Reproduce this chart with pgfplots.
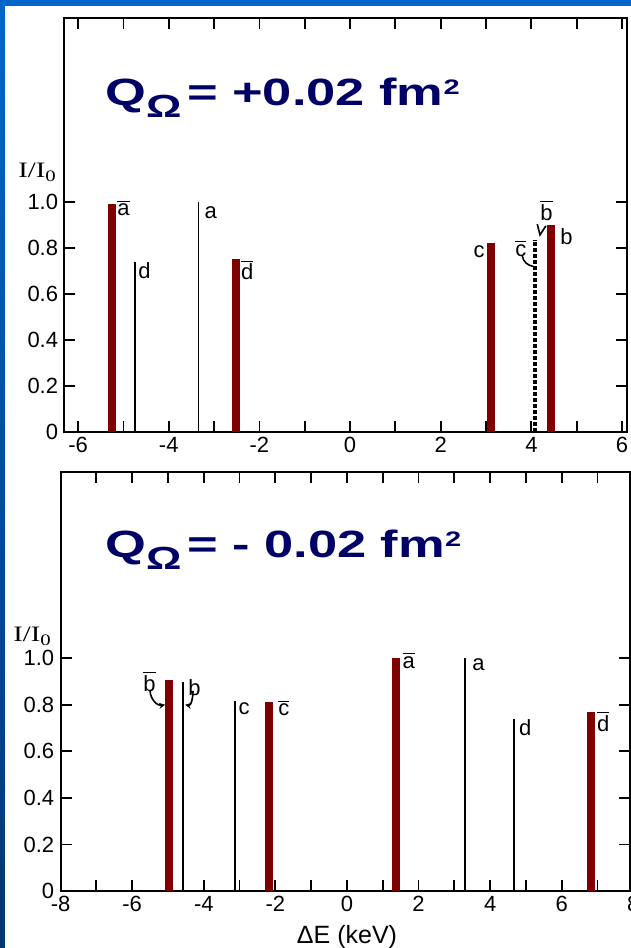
\documentclass[border=0pt]{standalone}
\usepackage{pgfplots}
\pgfplotsset{compat=1.18}
\usetikzlibrary{arrows.meta}
\usepackage{graphicx}
\usepackage{fontspec}
\setmainfont{Liberation Sans}
\newfontfamily\serifI{Liberation Serif}
\definecolor{barred}{RGB}{128,0,0}
\definecolor{navy}{RGB}{0,0,102}
\definecolor{slideblue}{RGB}{0,102,204}
\definecolor{slidedark}{RGB}{0,56,112}
\newcommand{\ob}[1]{$\overline{\mbox{#1}}$}
\pgfplotsset{
  specstyle/.style={
    scale only axis,
    anchor=south west,
    ymin=0, ymax=1.8,
    axis line style={line width=1pt},
    tick style={line width=0.9pt, black},
    tick align=inside,
    major tick length=5.5pt, minor tick length=5.5pt,
    ytick={0,0.2,0.4,0.6,0.8,1.0},
    yticklabels={0,0.2,0.4,0.6,0.8,1.0},
    tick label style={font=\fontsize{11}{12}\selectfont},
    xticklabel style={inner sep=2.5pt},
    yticklabel style={inner sep=3pt},
    clip=false,
  },
}
\tikzset{lbl/.style={anchor=north west, inner sep=0pt, font=\fontsize{11}{12}\selectfont}}
\begin{document}
\begin{tikzpicture}
\path[use as bounding box] (0,0) rectangle (315.5pt,474pt);
\clip (0,0) rectangle (315.5pt,474pt);
\shade[top color=slideblue, bottom color=slidedark] (0,0) rectangle (315.5pt,474pt);
\fill[white] (2.25pt,0) rectangle (315.5pt,471pt);

% ---------- top panel ----------
\begin{axis}[specstyle, at={(32.25pt,258pt)}, width=281.25pt, height=207pt,
  xmin=-6.30, xmax=6.11,
  xtick={-6,-4,-2,0,2,4,6}, xticklabels={-6,-4,-2,0,2,4,6},
  minor xtick={-5,-3,-1,1,3,5}]
\addplot[ycomb, color=barred, line width=4pt] coordinates {(-5.26,0.99) (-2.51,0.75) (3.11,0.82) (4.43,0.90)};
\addplot[ycomb, black, line width=0.8pt] coordinates {(-4.75,0.74) (-3.34,1.00)};
\addplot[ycomb, black, line width=1.8pt, dash pattern=on 2pt off 1pt] coordinates {(4.08,0.835)};
\node[lbl] at (axis cs:-5.14,1.01) {\ob{a}};
\node[lbl] at (axis cs:-4.68,0.74) {d};
\node[lbl] at (axis cs:-3.22,0.98) {a};
\node[lbl] at (axis cs:-2.41,0.75) {\ob{d}};
\node[lbl, anchor=north east] at (axis cs:2.98,0.81) {c};
\node[lbl] at (axis cs:3.64,0.835) {\ob{c}};
\node[lbl] at (axis cs:4.19,1.01) {\ob{b}};
\node[lbl] at (axis cs:4.63,0.887) {b};
\draw[line width=0.8pt] (axis cs:3.80,0.765) to[out=-80,in=170] (axis cs:4.04,0.72);
\draw[line width=0.8pt] (axis cs:4.13,0.904) -- (axis cs:4.19,0.857) -- (axis cs:4.32,0.896);
\end{axis}

% ---------- bottom panel ----------
\begin{axis}[specstyle, at={(30.3pt,28.5pt)}, width=284.95pt, height=209.5pt,
  xmin=-8, xmax=7.92,
  xtick={-8,-6,-4,-2,0,2,4,6}, xticklabels={-8,-6,-4,-2,0,2,4,6},
  minor xtick={-7,-5,-3,-1,1,3,5,7}]
\addplot[ycomb, color=barred, line width=4pt] coordinates {(-4.96,0.905) (-2.19,0.81) (1.38,1.00) (6.81,0.77)};
\addplot[ycomb, black, line width=0.8pt] coordinates {(-4.58,0.90) (-3.13,0.815) (3.30,1.00) (4.66,0.74)};
\node[anchor=north, inner sep=2.5pt, font=\fontsize{11}{12}\selectfont] at (axis cs:8,0) {8};
\node[lbl] at (axis cs:-5.70,0.944) {\ob{b}};
\node[lbl] at (axis cs:-4.44,0.909) {b};
\node[lbl] at (axis cs:-3.04,0.81) {c};
\node[lbl] at (axis cs:-1.93,0.823) {\ob{c}};
\node[lbl] at (axis cs:1.54,1.026) {\ob{a}};
\node[lbl] at (axis cs:3.49,1.00) {a};
\node[lbl] at (axis cs:4.80,0.737) {d};
\node[lbl] at (axis cs:6.98,0.772) {\ob{d}};
\draw[line width=0.8pt, -{Stealth[length=3pt,width=3pt]}] (axis cs:-5.50,0.86) to[out=-90,in=190] (axis cs:-5.08,0.80);
\draw[line width=0.8pt, -{Stealth[length=3pt,width=3pt]}] (axis cs:-4.30,0.86) to[out=-90,in=-10] (axis cs:-4.52,0.80);
\end{axis}

% ---------- titles and labels ----------
\node[anchor=base west, inner sep=0pt, text=navy] at (52.5pt,421pt)
  {\scalebox{1.38}[1]{\fontsize{19}{20}\selectfont\bfseries Q\raisebox{-6pt}{\fontsize{16}{16}\selectfont Ω}\hspace{2pt}= +0.02 fm\raisebox{5.5pt}{\fontsize{10.5}{11}\selectfont 2}}};
\node[anchor=base west, inner sep=0pt, text=navy] at (52.5pt,195pt)
  {\scalebox{1.38}[1]{\fontsize{19}{20}\selectfont\bfseries Q\raisebox{-6pt}{\fontsize{16}{16}\selectfont Ω}\hspace{2pt}= - 0.02 fm\raisebox{5.5pt}{\fontsize{10.5}{11}\selectfont 2}}};
\node[anchor=north west, inner sep=0pt] at (9pt,392.5pt)
  {\scalebox{1.3}[1]{\serifI\fontsize{11}{12}\selectfont I/I\raisebox{-2pt}{\fontsize{8}{8}\selectfont 0}}};
\node[anchor=north west, inner sep=0pt] at (6.5pt,160.5pt)
  {\scalebox{1.3}[1]{\serifI\fontsize{11}{12}\selectfont I/I\raisebox{-2pt}{\fontsize{8}{8}\selectfont 0}}};
\node[anchor=base, inner sep=0pt, font=\fontsize{12.5}{13}\selectfont] at (173.5pt,2pt) {ΔE (keV)};
\end{tikzpicture}
\end{document}
